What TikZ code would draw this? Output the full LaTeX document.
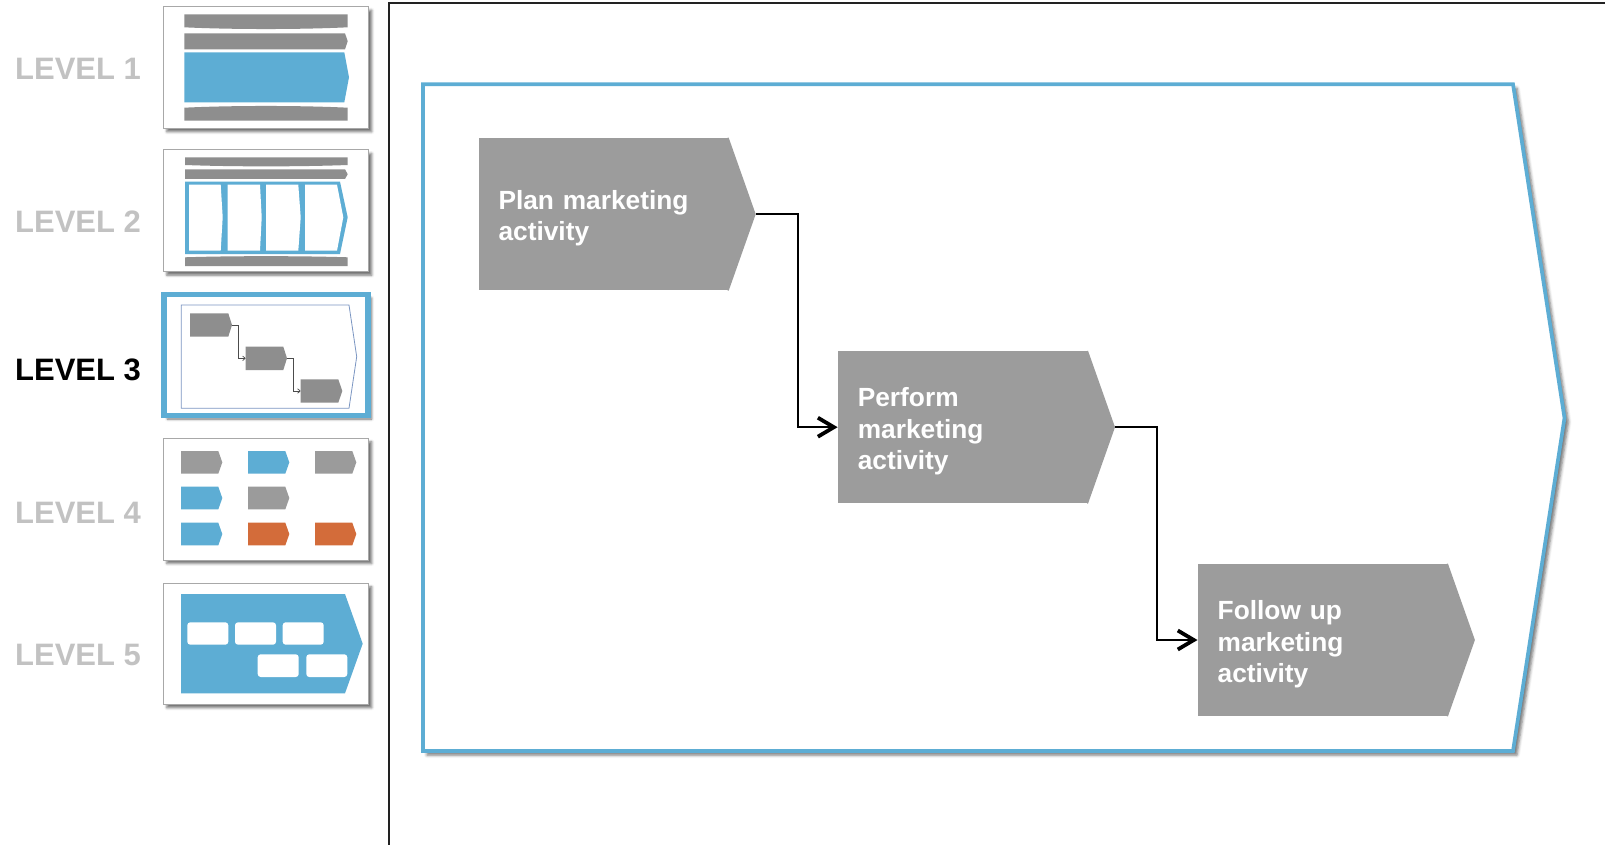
\documentclass[tikz,border=0pt]{standalone}
\usepackage{fontspec}
\setmainfont{Liberation Sans}
\usetikzlibrary{arrows.meta,calc,shadows.blur}

\definecolor{frameblue}{HTML}{5DADD4}
\definecolor{boxgray}{HTML}{9C9C9C}
\definecolor{thumbgray}{HTML}{8E8E8E}
\definecolor{tilegray}{HTML}{9B9B9B}
\definecolor{levelgray}{HTML}{C2C2C2}
\definecolor{accentorange}{HTML}{D36C3A}
\definecolor{thumbedge}{HTML}{A8A8A8}
\definecolor{thinblue}{HTML}{7B96C2}
\definecolor{panelline}{HTML}{222222}

% small chevron tile of the level-4 thumbnail: colour, left x, top y
\newcommand\chevtile[3]{\fill[#1] (#2,#3) -- ++(37.3,0) -- ++(4,11.35) -- ++(-4,11.35) -- ++(-37.3,0) -- cycle;}

\begin{document}
\begin{tikzpicture}[x=1pt,y=-1pt,
  stage/.style={fill=boxgray, minimum width=250pt, minimum height=152.5pt,
    inner sep=0pt, text width=210pt, align=left, text=white,
    font=\fontsize{26.3}{31.3}\selectfont\bfseries,
    execute at begin node={\rule{0pt}{27.5pt}}},
  levellabel/.style={anchor=base west, inner sep=0pt, text=levelgray,
    font=\fontsize{31}{36}\selectfont\bfseries},
  thumb/.style={draw=thumbedge, line width=1pt, fill=white,
    blur shadow={shadow xshift=3.5pt, shadow yshift=-3.5pt, shadow blur radius=2.5pt, shadow opacity=55}},
  conn/.style={line width=2.4pt, line join=miter,
    -{Straight Barb[length=16pt,width=19pt,line width=3.8pt]}},
  miniconn/.style={draw=gray!60!black, line width=0.8pt,
    -{Straight Barb[length=2.5pt,width=4.5pt,line width=0.7pt]}}
]
\useasboundingbox (0,0) rectangle (1605,845);

% ---------- level labels ----------
\node[levellabel] (lv1) at (15,79.3) {LEVEL 1};
\node[levellabel] (lv2) at (15,232.7) {LEVEL 2};
\node[levellabel, text=black] (lv3) at (15,380) {LEVEL 3};
\node[levellabel] (lv4) at (15,523.3) {LEVEL 4};
\node[levellabel] (lv5) at (15,665) {LEVEL 5};

% ---------- thumbnail 1 ----------
\draw[thumb] (163.3,6.7) rectangle (368.3,128.3);
\fill[thumbgray] (184.3,14.3) -- (347.7,14.3) -- (347.7,27.3)
  .. controls (300,29.6) and (232,29.6) .. (184.3,27.3) -- cycle;
\fill[thumbgray] (184.3,33.3) -- (345,33.3) -- (347.7,41.3) -- (345,49.3) -- (184.3,49.3) -- cycle;
\fill[frameblue] (184.3,52.3) -- (344.3,52.3) -- (349,77.3) -- (344.3,102.3) -- (184.3,102.3) -- cycle;
\fill[thumbgray] (184.3,107.7) .. controls (232,105.4) and (300,105.4) .. (347.7,107.7)
  -- (347.7,120.7) -- (184.3,120.7) -- cycle;

% ---------- thumbnail 2 ----------
\draw[thumb] (163.3,150) rectangle (368.3,271.7);
\fill[thumbgray] (185,157.3) -- (347.7,157.3) -- (347.7,165)
  .. controls (300,166.8) and (232,166.8) .. (185,165) -- cycle;
\fill[thumbgray] (185,169.3) -- (345,169.3) -- (347.7,174.2) -- (345,179) -- (185,179) -- cycle;
\fill[frameblue] (185,181.7) -- (340,181.7) -- (347.7,217.3) -- (340,254) -- (185,254) -- cycle;
\fill[white] (189,184.7) -- (220.7,184.7) -- (222.7,217.3) -- (220.7,250.7) -- (189,250.7) -- cycle;
\fill[white] (227.7,184.7) -- (260,184.7) -- (261.7,217.3) -- (260,250.7) -- (227.7,250.7) -- cycle;
\fill[white] (266,184.7) -- (298.3,184.7) -- (300.7,217.3) -- (298.3,250.7) -- (266,250.7) -- cycle;
\fill[white] (305,184.7) -- (337,184.7) -- (343.3,217.3) -- (337,250.7) -- (305,250.7) -- cycle;
\fill[thumbgray] (185,257.3) .. controls (232,255.8) and (300,255.8) .. (347.7,257.3)
  -- (347.7,266) -- (185,266) -- cycle;

% ---------- thumbnail 3 (current level) ----------
\draw[thumb, draw=frameblue, line width=5.5pt] (163.8,294.5) rectangle (368.2,415.5);
\draw[thinblue, line width=0.8pt] (181.3,305) -- (349,305) -- (356.7,356.7) -- (349,408.3) -- (181.3,408.3) -- cycle;
\fill[thumbgray] (190,313.3) -- (228.3,313.3) -- (232,325) -- (228.3,336.7) -- (190,336.7) -- cycle;
\fill[thumbgray] (245.7,346.7) -- (283.3,346.7) -- (287,358.3) -- (283.3,370) -- (245.7,370) -- cycle;
\fill[thumbgray] (300.7,379.3) -- (338.3,379.3) -- (342.3,391) -- (338.3,402.7) -- (300.7,402.7) -- cycle;
\draw[miniconn] (232,325) -- (238.3,325) -- (238.3,358.3) -- (245.7,358.3);
\draw[miniconn] (287,358.3) -- (293.3,358.3) -- (293.3,391) -- (300.7,391);

% ---------- thumbnail 4 ----------
\draw[thumb] (163.3,438.3) rectangle (368.3,560);
\chevtile{tilegray}{181}{451}
\chevtile{frameblue}{248}{451}
\chevtile{tilegray}{315}{451}
\chevtile{frameblue}{181}{486.7}
\chevtile{tilegray}{248}{486.7}
\chevtile{frameblue}{181}{522.7}
\chevtile{accentorange}{248}{522.7}
\chevtile{accentorange}{315}{522.7}

% ---------- thumbnail 5 ----------
\draw[thumb] (163.3,583.3) rectangle (368.3,704.3);
\fill[frameblue] (181,594) -- (345,594) -- (362.7,643.7) -- (345,693.3) -- (181,693.3) -- cycle;
\begin{scope}[white, rounded corners=3pt]
  \fill (187.3,622.3) rectangle (228.3,644.7);
  \fill (235,622.3) rectangle (276,644.7);
  \fill (282.7,622.3) rectangle (323.7,644.7);
  \fill (257.7,654.3) rectangle (298.7,677);
  \fill (306.3,654.3) rectangle (347.3,677);
\end{scope}

% ---------- detail panel ----------
\draw[panelline, line width=1.3pt] (389,846) -- (389,3) -- (1606,3);
\draw[draw=frameblue, line width=3.7pt, fill=white, line join=miter,
  blur shadow={shadow xshift=4pt, shadow yshift=-4pt, shadow blur radius=3pt, shadow opacity=55}]
  (423,84.2) -- (1513,84.2) -- (1564.5,418) -- (1513,751) -- (423,751) -- cycle;

% process steps
\node[stage] (plan) at (603.5,214.2) {Plan marketing\\activity};
\node[stage] (perform) at (962.8,427.2) {Perform\\marketing\\activity};
\node[stage] (follow) at (1322.7,640) {Follow up\\marketing\\activity};

\foreach \n in {plan,perform,follow}{
  \fill[boxgray] ($(\n.north east)+(-1,0)$) -- (\n.north east) -- ($(\n.east)+(27,0)$)
    -- (\n.south east) -- ($(\n.south east)+(-1,0)$) -- cycle;
  \coordinate (\n-tip) at ($(\n.east)+(27,0)$);
}

% flow between steps
\draw[conn] (plan-tip) -- ++(42,0) |- (perform.west);
\draw[conn] (perform-tip) -- ++(41.7,0) |- (follow.west);
\end{tikzpicture}
\end{document}
